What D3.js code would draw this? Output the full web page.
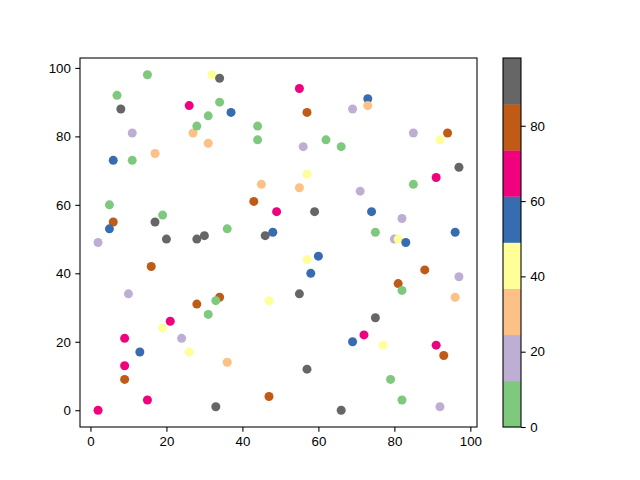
<!DOCTYPE html>
<html>
<head>
<meta charset="utf-8">
<script src="https://cdn.jsdelivr.net/npm/d3@7"></script>
<style>
  body { margin: 0; background: #fff; }
  svg { font-family: "DejaVu Sans", sans-serif; }
  .tick text { font-size: 13.3px; fill: #000; }
  .domain { display: none; }
  .tick line { stroke: #000; stroke-width: 1.07px; }
</style>
</head>
<body>
<div id="chart"></div>
<script>
"use strict";

// point positions and colour values
var xs = [2, 15, 9, 9, 9, 13, 21, 19, 24, 26, 16, 10, 2, 6, 5, 5, 17, 19, 20, 6,
          11, 11, 17, 7, 8, 15, 26, 27, 28, 31, 32, 34, 34, 37, 31, 44, 44, 28, 30, 36,
          28, 31, 34, 33, 36, 33, 47, 47, 43, 45, 49, 46, 48, 55, 57, 56, 62, 66, 55, 57,
          59, 57, 60, 58, 55, 57, 66, 69, 73, 73, 71, 74, 75, 80, 81, 83, 82, 85, 85, 75,
          72, 69, 77, 79, 82, 81, 82, 88, 91, 92, 94, 97, 96, 97, 96, 91, 93, 92];
var ys = [0, 3, 9, 13, 21, 17, 26, 24, 21, 17, 42, 34, 49, 55, 53, 60, 55, 57, 50, 73,
          73, 81, 75, 92, 88, 98, 89, 81, 83, 86, 98, 97, 90, 87, 78, 83, 79, 50, 51, 53,
          31, 28, 33, 32, 14, 1, 4, 32, 61, 66, 58, 51, 52, 94, 87, 77, 79, 77, 65, 69,
          58, 44, 45, 40, 34, 12, 0, 88, 91, 89, 64, 58, 52, 50, 50, 49, 56, 81, 66, 27,
          22, 20, 19, 9, 3, 37, 35, 41, 68, 79, 81, 71, 52, 39, 33, 19, 16, 1];
var cs = [67, 68, 79, 66, 70, 55, 64, 44, 19, 41, 81, 17, 20, 78, 54, 6, 91, 4, 93, 57,
          8, 18, 31, 3, 90, 7, 69, 29, 5, 9, 43, 98, 2, 56, 30, 10, 0, 89, 94, 6,
          80, 4, 82, 8, 27, 92, 77, 45, 83, 32, 66, 95, 52, 70, 81, 21, 5, 11, 28, 40,
          88, 42, 58, 53, 96, 87, 91, 15, 59, 33, 22, 50, 3, 16, 39, 55, 23, 14, 7, 93,
          71, 51, 46, 9, 2, 76, 10, 84, 63, 38, 80, 97, 60, 20, 26, 68, 75, 13];
var xTicks = [0, 20, 40, 60, 80, 100];
var yTicks = [0, 20, 40, 60, 80, 100];
var cTicks = [0, 20, 40, 60, 80];

(function() {
  var width = 640, height = 480,
      axL = 80, axR = 477, axT = 58, axB = 427,
      cbL = 503, cbR = 521;

  var svg = d3.select("#chart").append("svg")
      .attr("width", width)
      .attr("height", height);

  // matplotlib style 5% margins
  function padded(vals) {
    var e = d3.extent(vals), m = (e[1] - e[0]) * 0.05;
    return [e[0] - m, e[1] + m];
  }

  var x = d3.scaleLinear().domain(padded(xs)).range([axL, axR]),
      y = d3.scaleLinear().domain(padded(ys)).range([axB, axT]),
      cExt = d3.extent(cs),
      color = d3.scaleQuantize().domain(cExt).range(d3.schemeAccent),
      cy = d3.scaleLinear().domain(cExt).range([axB, axT]);

  var pts = xs.map(function(d, i) { return { x: d, y: ys[i], c: cs[i] }; });

  svg.append("g").selectAll("circle")
      .data(pts)
    .enter().append("circle")
      .attr("cx", function(d) { return x(d.x); })
      .attr("cy", function(d) { return y(d.y); })
      .attr("r", 4.5)
      .style("fill", function(d) { return color(d.c); });

  svg.append("g")
      .attr("transform", "translate(0," + axB + ")")
      .call(d3.axisBottom(x).tickValues(xTicks).tickSize(4.7).tickPadding(4.5).tickFormat(d3.format("d")));

  svg.append("g")
      .attr("transform", "translate(" + axL + ",0)")
      .call(d3.axisLeft(y).tickValues(yTicks).tickSize(4.7).tickPadding(4.5).tickFormat(d3.format("d")));

  svg.append("rect")
      .attr("x", axL).attr("y", axT)
      .attr("width", axR - axL).attr("height", axB - axT)
      .style("fill", "none").style("stroke", "#000").style("stroke-width", 1.07);

  // colorbar: one block per colour of the quantize scale
  var bands = color.range().map(function(col) { return { col: col, ext: color.invertExtent(col) }; });

  svg.append("g").selectAll("rect")
      .data(bands)
    .enter().append("rect")
      .attr("x", cbL)
      .attr("width", cbR - cbL)
      .attr("y", function(d) { return cy(d.ext[1]); })
      .attr("height", function(d) { return cy(d.ext[0]) - cy(d.ext[1]) + 0.3; })
      .style("fill", function(d) { return d.col; });

  svg.append("g")
      .attr("transform", "translate(" + cbR + ",0)")
      .call(d3.axisRight(cy).tickValues(cTicks).tickSize(4.7).tickPadding(4.5).tickFormat(d3.format("d")));

  svg.append("rect")
      .attr("x", cbL).attr("y", axT)
      .attr("width", cbR - cbL).attr("height", axB - axT)
      .style("fill", "none").style("stroke", "#000").style("stroke-width", 1.07);
})();
</script>
</body>
</html>
